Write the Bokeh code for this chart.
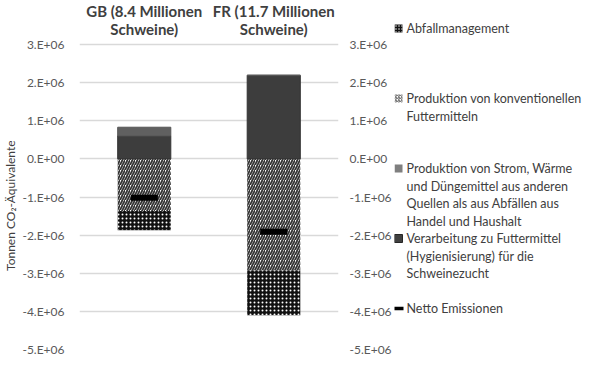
from bokeh.plotting import figure
from bokeh.models import FixedTicker, LinearAxis, Range1d
from bokeh.layouts import row
from bokeh.core.properties import value
from bokeh.embed import file_html
from bokeh.resources import INLINE
import numpy as np

# ---- data ----
categories = ["GB (8.4 Millionen\nSchweine)", "FR (11.7 Millionen\nSchweine)"]
verarbeitung = [0.60e6, 2.18e6]      # Verarbeitung zu Futtermittel (Hygienisierung)
strom = [0.23e6, 0.02e6]             # Produktion von Strom, Wärme und Düngemittel
konventionell = [-1.37e6, -2.92e6]   # Produktion von konventionellen Futtermitteln
abfall = [-0.50e6, -1.18e6]          # Abfallmanagement
netto = [-1.02e6, -1.91e6]           # Netto Emissionen

y_ticks = [-5000000, -4000000, -3000000, -2000000, -1000000, 0, 1000000, 2000000, 3000000]
y_tick_labels = ["-5.E+06", "-4.E+06", "-3.E+06", "-2.E+06", "-1.E+06", "0.E+00", "1.E+06", "2.E+06", "3.E+06"]

legend_labels = [
    "Abfallmanagement",
    "Produktion von konventionellen\nFuttermitteln",
    "Produktion von Strom, Wärme\nund Düngemittel aus anderen\nQuellen als aus Abfällen aus\nHandel und Haushalt",
    "Verarbeitung zu Futtermittel\n(Hygienisierung) für die\nSchweinezucht",
    "Netto Emissionen",
]

FONT = "Lato"
TXT = "#404040"
TICK = "#595959"
H = 356
MW, LW = 394, 190
BB = 7                       # bottom border
FB = H - BB                  # frame bottom (px from top)
Y3 = 44                      # pixel row of the top gridline
YMIN = -5e6
per_px = (3e6 - YMIN) / (FB - Y3)
YTOP = 3e6 + Y3 * per_px

def ydata(px):
    return YTOP - px * per_px

ver = np.array(verarbeitung)
st = np.array(strom)
kon = np.array(konventionell)
ab = np.array(abfall)

p = figure(x_range=categories, y_range=Range1d(YMIN, YTOP), width=MW, height=H,
           x_axis_location=None, toolbar_location=None, output_backend="svg",
           min_border_left=57, min_border_right=10, min_border_top=0, min_border_bottom=BB)
p.outline_line_color = None

ticker = FixedTicker(ticks=y_ticks)
overrides = dict(zip(y_ticks, y_tick_labels))

ya = p.yaxis[0]
ya.ticker = ticker
ya.major_label_overrides = overrides
ya.axis_line_color = None
ya.major_tick_line_color = None
ya.minor_tick_line_color = None
ya.major_label_text_font = FONT
ya.major_label_text_font_size = "12px"
ya.major_label_text_color = TICK
ya.major_label_standoff = 9
ya.axis_label = "Tonnen CO₂-Äquivalente" + "\u00a0" * 20
ya.axis_label_text_font = FONT
ya.axis_label_text_font_size = "12px"
ya.axis_label_text_font_style = "normal"
ya.axis_label_text_color = TXT
ya.axis_label_standoff = 1

ra = LinearAxis(ticker=ticker, major_label_overrides=overrides)
ra.axis_line_color = None
ra.major_tick_line_color = None
ra.minor_tick_line_color = None
ra.major_label_text_font = FONT
ra.major_label_text_font_size = "12px"
ra.major_label_text_color = TICK
ra.major_label_standoff = 5
p.add_layout(ra, "right")

p.xgrid.visible = False
p.ygrid.ticker = ticker
p.ygrid.grid_line_color = "#d9d9d9"
p.ygrid.grid_line_width = 1.5

# category titles (bold, two lines) above the top gridline
tx_, ty_, tt_ = [], [], []
for c in categories:
    for j, line in enumerate(c.split("\n")):
        tx_.append(c)
        ty_.append(ydata(10 + 18.5 * j))
        tt_.append(line)
p.text(x=tx_, y=ty_, text=tt_, text_font=value(FONT), text_font_size="15px",
       text_font_style="bold", text_color=TXT, text_align="center", text_baseline="middle")

W = 0.41
p.vbar(x=categories, bottom=0, top=ver, width=W, fill_color="#3d3d3d", line_color="#333333", line_width=1)
p.vbar(x=categories, bottom=ver, top=ver + st, width=W, fill_color="#606060", line_color="#555555", line_width=1)
p.vbar(x=categories, top=0, bottom=kon, width=W, fill_color="white", line_color=None,
       hatch_pattern="/", hatch_color="#333333", hatch_scale=5, hatch_weight=1.8)
p.vbar(x=categories, top=kon, bottom=kon + ab, width=W, fill_color="#111111", line_color=None,
       hatch_pattern="dot", hatch_color="white", hatch_scale=4, hatch_weight=1.5)
p.rect(x=categories, y=netto, width=0.21, height=6, height_units="screen",
       fill_color="black", line_color=None)

# ---- legend panel (pixel coordinates) ----
lg = figure(width=LW, height=H, x_range=Range1d(0, LW), y_range=Range1d(FB, 0),
            x_axis_location=None, y_axis_location=None,
            toolbar_location=None, output_backend="svg",
            min_border_left=0, min_border_right=0, min_border_top=0, min_border_bottom=BB)
lg.grid.visible = False
lg.outline_line_color = None

item_y = [28 + 70 * i for i in range(len(legend_labels))]
line_h = 17.7
gx = 4
tx = 12

lx, ly, lt = [], [], []
for yy, lab in zip(item_y, legend_labels):
    for j, line in enumerate(lab.split("\n")):
        lx.append(tx)
        ly.append(yy + j * line_h)
        lt.append(line)
lg.text(x=lx, y=ly, text=lt, text_font=value(FONT), text_font_size="12.5px",
        text_color=TXT, text_baseline="middle", text_align="left")

lg.rect(x=[gx], y=[item_y[0]], width=8, height=8, fill_color="#111111", line_color=None,
        hatch_pattern="dot", hatch_color="white", hatch_scale=3, hatch_weight=1.2)
lg.rect(x=[gx], y=[item_y[1]], width=8, height=8, fill_color="white", line_color=None,
        hatch_pattern="/", hatch_color="#555555", hatch_scale=3, hatch_weight=1)
lg.rect(x=[gx], y=[item_y[2]], width=8, height=8, fill_color="#7f7f7f", line_color=None)
lg.rect(x=[gx], y=[item_y[3]], width=8, height=8, fill_color="#404040", line_color="#262626")
lg.rect(x=[gx], y=[item_y[4]], width=10, height=3.5, fill_color="black", line_color=None)

layout = row(p, lg)
open("out.html", "w").write(file_html(layout, INLINE))
